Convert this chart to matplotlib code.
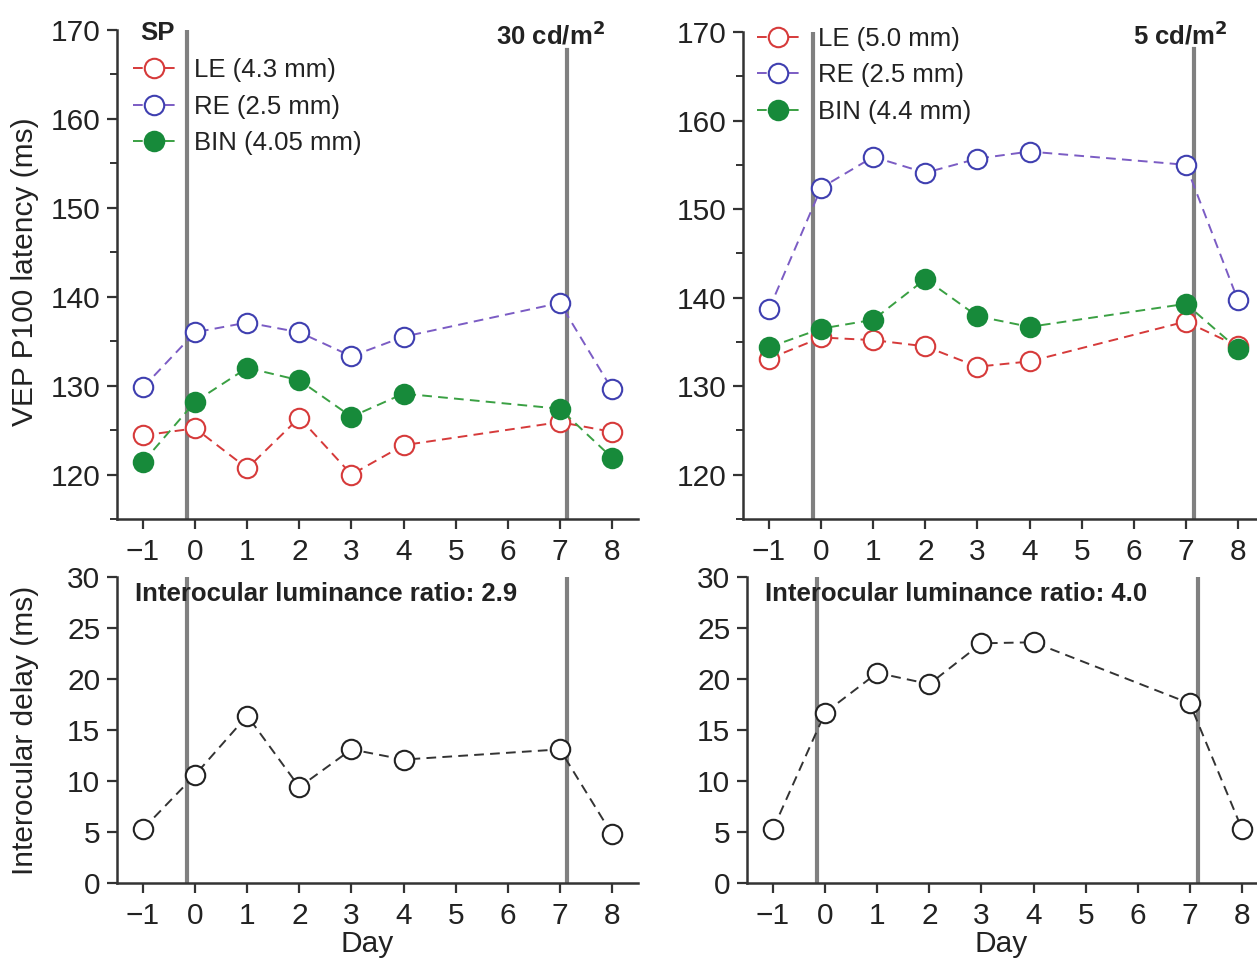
import matplotlib
matplotlib.use("Agg")
import matplotlib.pyplot as plt
from matplotlib.ticker import MultipleLocator

plt.rcParams['font.family'] = ['Liberation Sans', 'DejaVu Sans']

days = [-1, 0, 1, 2, 3, 4, 7, 8]
xticks = [-1, 0, 1, 2, 3, 4, 5, 6, 7, 8]

# 30 cd/m2 condition (left)
le_30 = [124.4, 125.2, 120.7, 126.4, 120.0, 123.3, 125.9, 124.8]
re_30 = [129.8, 136.0, 137.1, 136.0, 133.3, 135.5, 139.3, 129.6]
bin_30 = [121.4, 128.2, 132.0, 130.6, 126.5, 129.1, 127.4, 121.9]
delay_30 = [5.3, 10.6, 16.4, 9.4, 13.1, 12.1, 13.1, 4.8]

# 5 cd/m2 condition (right)
le_5 = [133.1, 135.5, 135.2, 134.5, 132.2, 132.8, 137.3, 134.5]
re_5 = [138.7, 152.4, 155.9, 154.1, 155.7, 156.5, 155.0, 139.7]
bin_5 = [134.4, 136.5, 137.5, 142.1, 137.9, 136.7, 139.3, 134.2]
delay_5 = [5.3, 16.7, 20.6, 19.5, 23.5, 23.6, 17.6, 5.3]

labels_30 = ['LE (4.3 mm)', 'RE (2.5 mm)', 'BIN (4.05 mm)']
labels_5 = ['LE (5.0 mm)', 'RE (2.5 mm)', 'BIN (4.4 mm)']
ratio_30 = 'Interocular luminance ratio: 2.9'
ratio_5 = 'Interocular luminance ratio: 4.0'

vline_days_left = [-0.16, 7.14]
vline_days_right = [-0.15, 7.16]

RED = '#d63a3a'
BLUE = '#3f3fb0'
BLUE_LINE = '#7b5cc4'
GREEN = '#178a3a'
GREEN_LINE = '#3aa043'
GRAY = '#808080'
TXT = '#222222'
SPINE = '#333333'

W, H = 1257, 963
fig = plt.figure(figsize=(W / 100, H / 100), dpi=100)


def axrect(left, top, right, bottom):
    return [left / W, 1 - bottom / H, (right - left) / W, (bottom - top) / H]


ax_tl = fig.add_axes(axrect(117, 30, 638, 519))
ax_tr = fig.add_axes(axrect(743, 32, 1264, 519))
ax_bl = fig.add_axes(axrect(117, 577, 638, 883))
ax_br = fig.add_axes(axrect(747, 577, 1268, 883))

dash = (0, (5, 3.2))
msz = 14
BOLD_SZ = 18.5


def style(ax, ylim, major, minor=None):
    ax.set_xlim(-1.5, 8.5)
    ax.set_ylim(*ylim)
    ax.set_xticks(xticks)
    ax.yaxis.set_major_locator(MultipleLocator(major))
    if minor:
        ax.yaxis.set_minor_locator(MultipleLocator(minor))
    for s in ['top', 'right']:
        ax.spines[s].set_visible(False)
    for s in ['left', 'bottom']:
        ax.spines[s].set_linewidth(1.8)
        ax.spines[s].set_color(SPINE)
    ax.tick_params(which='major', direction='out', length=7, width=1.6,
                   color=SPINE, labelsize=21.5, labelcolor=TXT, pad=5)
    ax.tick_params(axis='x', which='major', pad=7)
    ax.tick_params(which='minor', direction='out', length=5, width=1.4,
                   color=SPINE)


def top_panel(ax, le, re, bi, labels, vdays, vtop, leg_anchor):
    ax.axvline(vdays[0], ymin=0, ymax=1, color=GRAY, lw=3, zorder=1)
    ax.axvline(vdays[1], ymin=0, ymax=vtop, color=GRAY, lw=3, zorder=1)
    h1, = ax.plot(days, le, ls=dash, color=RED, lw=1.4, marker='o', ms=msz,
                  mfc='white', mec=RED, mew=1.5, label=labels[0], zorder=3)
    h2, = ax.plot(days, re, ls=dash, color=BLUE_LINE, lw=1.4, marker='o', ms=msz,
                  mfc='white', mec=BLUE, mew=1.5, label=labels[1], zorder=3)
    h3, = ax.plot(days, bi, ls=dash, color=GREEN_LINE, lw=1.4, marker='o', ms=msz,
                  mfc=GREEN, mec=GREEN, mew=1.5, label=labels[2], zorder=4)
    style(ax, (115, 170), 10, 5)
    leg = ax.legend(handles=[h1, h2, h3], loc='upper left', bbox_to_anchor=leg_anchor,
                    frameon=False, fontsize=18.5, handlelength=1.7, handletextpad=0.7,
                    labelspacing=0.48, borderpad=0, borderaxespad=0, numpoints=1)
    for t in leg.get_texts():
        t.set_color(TXT)


def bottom_panel(ax, delay, vdays, text, xlabel_x):
    for d in vdays:
        ax.axvline(d, color=GRAY, lw=3, zorder=1)
    ax.plot(days, delay, ls=dash, color='#333333', lw=1.4, marker='o', ms=msz,
            mfc='white', mec='#222222', mew=1.5, zorder=3)
    style(ax, (0, 30), 5)
    ax.set_xlabel('Day', fontsize=21.5, color=TXT)
    ax.xaxis.set_label_coords(xlabel_x, -0.155)
    ax.text(0.035, 0.945, text, transform=ax.transAxes, fontsize=BOLD_SZ,
            fontweight='bold', color=TXT, ha='left', va='center', zorder=5)


top_panel(ax_tl, le_30, re_30, bin_30, labels_30, vline_days_left, 0.96, (0.03, 0.942))
top_panel(ax_tr, le_5, re_5, bin_5, labels_5, vline_days_right, 0.965, (0.026, 1.01))
ax_tl.text(0.044, 0.993, 'SP', transform=ax_tl.transAxes, fontsize=BOLD_SZ,
           fontweight='bold', color=TXT, ha='left', va='center')
ax_tl.text(0.936, 0.989, '30 cd/m$^\\mathbf{2}$', transform=ax_tl.transAxes, fontsize=BOLD_SZ,
           fontweight='bold', color=TXT, ha='right', va='center')
ax_tr.text(0.93, 0.993, '5 cd/m$^\\mathbf{2}$', transform=ax_tr.transAxes, fontsize=BOLD_SZ,
           fontweight='bold', color=TXT, ha='right', va='center')

bottom_panel(ax_bl, delay_30, vline_days_left, ratio_30, 0.48)
bottom_panel(ax_br, delay_5, vline_days_right, ratio_5, 0.487)

fig.text(25 / W, 1 - 272 / H, 'VEP P100 latency (ms)', rotation=90, fontsize=21.5,
         color=TXT, ha='center', va='center')
fig.text(25 / W, 1 - 730 / H, 'Interocular delay (ms)', rotation=90, fontsize=21.5,
         color=TXT, ha='center', va='center')

fig.savefig('out.png', dpi=100)
